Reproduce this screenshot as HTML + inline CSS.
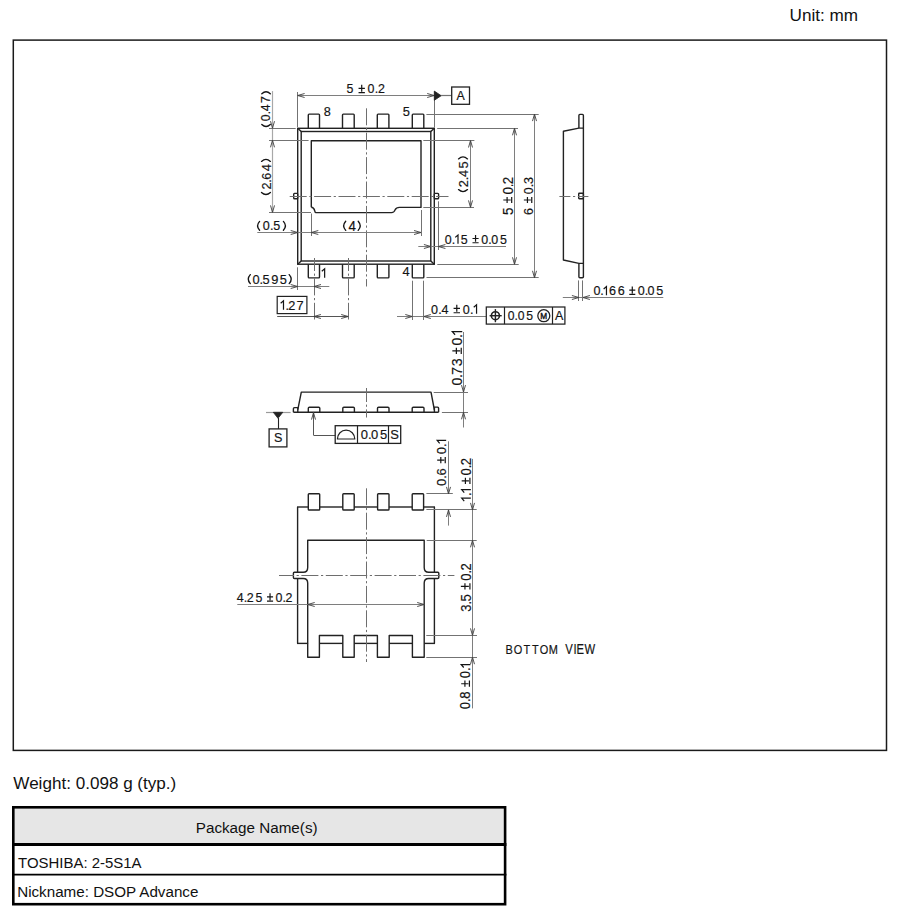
<!DOCTYPE html>
<html><head><meta charset="utf-8"><style>
html,body{margin:0;padding:0;background:#fff;}
body{width:900px;height:919px;overflow:hidden;position:relative;}
svg{position:absolute;left:0;top:0;}
</style></head><body>
<svg width="900" height="919" viewBox="0 0 900 919">
<rect x="0" y="0" width="900" height="919" fill="#fff"/>
<rect x="13.3" y="40.1" width="873.2" height="710.3" fill="none" stroke="#1a1a1a" stroke-width="1.5"/>
<path d="M308.3,128.3 L308.3,114.9 Q308.3,114.1 309.1,114.1 L318.7,114.1 Q319.5,114.1 319.5,114.9 L319.5,128.3" stroke="#222222" stroke-width="1.4" fill="none" stroke-linejoin="round"/>
<path d="M308.3,264.2 L308.3,277.1 Q308.3,277.9 309.1,277.9 L318.7,277.9 Q319.5,277.9 319.5,277.1 L319.5,264.2" stroke="#222222" stroke-width="1.4" fill="none" stroke-linejoin="round"/>
<path d="M342.5,128.3 L342.5,114.9 Q342.5,114.1 343.3,114.1 L353.4,114.1 Q354.2,114.1 354.2,114.9 L354.2,128.3" stroke="#222222" stroke-width="1.4" fill="none" stroke-linejoin="round"/>
<path d="M342.5,264.2 L342.5,277.1 Q342.5,277.9 343.3,277.9 L353.4,277.9 Q354.2,277.9 354.2,277.1 L354.2,264.2" stroke="#222222" stroke-width="1.4" fill="none" stroke-linejoin="round"/>
<path d="M377.3,128.3 L377.3,114.9 Q377.3,114.1 378.1,114.1 L388.09999999999997,114.1 Q388.9,114.1 388.9,114.9 L388.9,128.3" stroke="#222222" stroke-width="1.4" fill="none" stroke-linejoin="round"/>
<path d="M377.3,264.2 L377.3,277.1 Q377.3,277.9 378.1,277.9 L388.09999999999997,277.9 Q388.9,277.9 388.9,277.1 L388.9,264.2" stroke="#222222" stroke-width="1.4" fill="none" stroke-linejoin="round"/>
<path d="M412.3,128.3 L412.3,114.9 Q412.3,114.1 413.1,114.1 L423.0,114.1 Q423.8,114.1 423.8,114.9 L423.8,128.3" stroke="#222222" stroke-width="1.4" fill="none" stroke-linejoin="round"/>
<path d="M412.3,264.2 L412.3,277.1 Q412.3,277.9 413.1,277.9 L423.0,277.9 Q423.8,277.9 423.8,277.1 L423.8,264.2" stroke="#222222" stroke-width="1.4" fill="none" stroke-linejoin="round"/>
<rect x="297.70" y="128.30" width="136.60" height="135.90" rx="0" stroke="#222222" stroke-width="1.4" fill="none"/>
<rect x="301.20" y="131.50" width="129.60" height="129.50" rx="0" stroke="#222222" stroke-width="1.4" fill="none"/>
<line x1="297.70" y1="128.30" x2="301.20" y2="131.50" stroke="#222222" stroke-width="1.4" />
<line x1="434.30" y1="128.30" x2="430.80" y2="131.50" stroke="#222222" stroke-width="1.4" />
<line x1="297.70" y1="264.20" x2="301.20" y2="261.00" stroke="#222222" stroke-width="1.4" />
<line x1="434.30" y1="264.20" x2="430.80" y2="261.00" stroke="#222222" stroke-width="1.4" />
<rect x="293.70" y="193.40" width="4.00" height="5.30" rx="0.8" stroke="#222222" stroke-width="1.4" fill="none"/>
<rect x="434.30" y="193.40" width="4.30" height="5.30" rx="0.8" stroke="#222222" stroke-width="1.4" fill="none"/>
<path d="M311.3,207.2 L311.3,140.7 L421.0,140.7 L421.0,207.4 L399.5,207.4 Q396.2,207.4 395.2,209.6 Q394.2,212.6 391.5,212.6 L316.0,212.6 Q315.0,212.6 314.6,210.5 Q314.0,207.5 311.3,207.2" stroke="#222222" stroke-width="1.4" fill="none" stroke-linejoin="round"/>
<text transform="scale(0.95,1)" x="340.83" y="115.666" font-family="Liberation Sans" font-size="13.380" fill="#141414" stroke="#141414" stroke-width="0.18">8</text>
<text transform="scale(0.95,1)" x="423.97" y="115.664" font-family="Liberation Sans" font-size="13.571" fill="#141414" stroke="#141414" stroke-width="0.18">5</text>
<text transform="scale(0.95,1)" x="" y="277.800" font-family="Liberation Sans" font-size="13.913" fill="#141414" stroke="#141414" stroke-width="0.18"></text><path d="M321.77,271.27 L324.65,268.80 L324.65,277.75" stroke="#141414" stroke-width="1.2" fill="none" stroke-linejoin="miter"/>
<text transform="scale(0.95,1)" x="423.80" y="275.600" font-family="Liberation Sans" font-size="13.478" fill="#141414" stroke="#141414" stroke-width="0.18">4</text>
<line x1="366.50" y1="108.30" x2="366.50" y2="286.50" stroke="#6e6e6e" stroke-width="1.0" stroke-dasharray="17 2.6 2.2 2.6" stroke-dashoffset="0"/>
<line x1="288.70" y1="196.50" x2="448.50" y2="196.50" stroke="#6e6e6e" stroke-width="1.0" stroke-dasharray="17 2.6 2.2 2.6" stroke-dashoffset="-1"/>
<line x1="314.50" y1="258.00" x2="314.50" y2="319.50" stroke="#6e6e6e" stroke-width="1.0" stroke-dasharray="17 2.6 2.2 2.6" stroke-dashoffset="4"/>
<line x1="348.50" y1="258.00" x2="348.50" y2="319.50" stroke="#6e6e6e" stroke-width="1.0" stroke-dasharray="17 2.6 2.2 2.6" stroke-dashoffset="4"/>
<line x1="297.50" y1="92.00" x2="297.50" y2="127.00" stroke="#737373" stroke-width="1.0" />
<line x1="434.50" y1="91.50" x2="434.50" y2="127.50" stroke="#737373" stroke-width="1.0" />
<line x1="297.50" y1="95.50" x2="434.30" y2="95.50" stroke="#7e7e7e" stroke-width="1.0" />
<path d="M304.60,93.50 L297.60,95.50 L304.60,97.50" stroke="#3c3c3c" stroke-width="0.9" fill="none"/>
<path d="M427.20,97.50 L434.20,95.50 L427.20,93.50" stroke="#3c3c3c" stroke-width="0.9" fill="none"/>
<text transform="scale(0.95,1)" x="364.86 386.98 394.54 397.98" y="93.469" font-family="Liberation Sans" font-size="13.099" fill="#141414" stroke="#141414" stroke-width="0.18">50.2</text><path d="M358.55,88.39 L364.88,88.39 M361.71,84.86 L361.71,91.74 M358.55,92.67 L364.88,92.67" stroke="#141414" stroke-width="1.2" fill="none"/>
<path d="M434.30,91.10 L441.20,95.70 L434.30,100.30 Z" stroke="#222222" stroke-width="0.8" fill="#222222" stroke-linejoin="round"/>
<line x1="441.00" y1="95.50" x2="451.70" y2="95.50" stroke="#737373" stroke-width="1.2" />
<rect x="451.70" y="87.00" width="17.80" height="17.30" rx="0" stroke="#222222" stroke-width="1.3" fill="none"/>
<text transform="scale(0.95,1)" x="480.51" y="100.200" font-family="Liberation Sans" font-size="13.043" fill="#141414" stroke="#141414" stroke-width="0.18">A</text>
<line x1="272.50" y1="91.10" x2="272.50" y2="212.30" stroke="#a8a8a8" stroke-width="1.2" />
<line x1="269.00" y1="128.50" x2="295.70" y2="128.50" stroke="#737373" stroke-width="1.0" />
<line x1="269.00" y1="140.50" x2="308.60" y2="140.50" stroke="#737373" stroke-width="1.0" />
<line x1="269.00" y1="212.50" x2="311.00" y2="212.50" stroke="#737373" stroke-width="1.0" />
<path d="M270.50,121.20 L272.50,128.20 L274.50,121.20" stroke="#3c3c3c" stroke-width="0.9" fill="none"/>
<path d="M274.50,147.30 L272.50,140.30 L270.50,147.30" stroke="#3c3c3c" stroke-width="0.9" fill="none"/>
<path d="M270.50,205.40 L272.50,212.40 L274.50,205.40" stroke="#3c3c3c" stroke-width="0.9" fill="none"/>
<g transform="matrix(0,-1,1,0,0,0)"><text transform="scale(0.95,1)" x="-127.53 -120.36 -117.16 -108.35" y="270.472" font-family="Liberation Sans" font-size="12.817" fill="#141414" stroke="#141414" stroke-width="0.18">0.47</text><path d="M-124.40,261.80 Q-128.45,266.05 -124.40,270.30" stroke="#141414" stroke-width="1.35" fill="none" stroke-linecap="round"/><path d="M-93.70,261.80 Q-89.65,266.05 -93.70,270.30" stroke="#141414" stroke-width="1.35" fill="none" stroke-linecap="round"/></g>
<g transform="matrix(0,-1,1,0,0,0)"><text transform="scale(0.95,1)" x="-199.45 -192.26 -189.29 -180.33" y="270.566" font-family="Liberation Sans" font-size="13.380" fill="#141414" stroke="#141414" stroke-width="0.18">2.64</text><path d="M-192.40,261.50 Q-196.45,265.95 -192.40,270.40" stroke="#141414" stroke-width="1.35" fill="none" stroke-linecap="round"/><path d="M-161.40,261.50 Q-157.35,265.95 -161.40,270.40" stroke="#141414" stroke-width="1.35" fill="none" stroke-linecap="round"/></g>
<line x1="426.40" y1="114.50" x2="538.70" y2="114.50" stroke="#737373" stroke-width="1.0" />
<line x1="437.20" y1="128.50" x2="518.00" y2="128.50" stroke="#737373" stroke-width="1.0" />
<line x1="423.30" y1="140.50" x2="474.40" y2="140.50" stroke="#737373" stroke-width="1.0" />
<line x1="423.30" y1="207.50" x2="474.00" y2="207.50" stroke="#737373" stroke-width="1.0" />
<line x1="437.30" y1="264.50" x2="518.70" y2="264.50" stroke="#737373" stroke-width="1.0" />
<line x1="426.50" y1="277.50" x2="538.70" y2="277.50" stroke="#737373" stroke-width="1.0" />
<line x1="470.50" y1="140.50" x2="470.50" y2="207.40" stroke="#7e7e7e" stroke-width="1.0" />
<path d="M472.50,147.50 L470.50,140.50 L468.50,147.50" stroke="#3c3c3c" stroke-width="0.9" fill="none"/>
<path d="M468.50,200.40 L470.50,207.40 L472.50,200.40" stroke="#3c3c3c" stroke-width="0.9" fill="none"/>
<line x1="514.50" y1="128.30" x2="514.50" y2="264.30" stroke="#7e7e7e" stroke-width="1.0" />
<path d="M516.50,135.30 L514.50,128.30 L512.50,135.30" stroke="#3c3c3c" stroke-width="0.9" fill="none"/>
<path d="M512.50,257.30 L514.50,264.30 L516.50,257.30" stroke="#3c3c3c" stroke-width="0.9" fill="none"/>
<line x1="534.50" y1="114.10" x2="534.50" y2="277.80" stroke="#7e7e7e" stroke-width="1.0" />
<path d="M536.50,121.10 L534.50,114.10 L532.50,121.10" stroke="#3c3c3c" stroke-width="0.9" fill="none"/>
<path d="M532.50,270.80 L534.50,277.80 L536.50,270.80" stroke="#3c3c3c" stroke-width="0.9" fill="none"/>
<g transform="matrix(0,-1,1,0,0,0)"><text transform="scale(0.95,1)" x="-197.06 -189.65 -186.38 -177.29" y="467.665" font-family="Liberation Sans" font-size="13.521" fill="#141414" stroke="#141414" stroke-width="0.18">2.45</text><path d="M-189.60,458.50 Q-193.65,463.00 -189.60,467.50" stroke="#141414" stroke-width="1.35" fill="none" stroke-linecap="round"/><path d="M-158.90,458.50 Q-154.85,463.00 -158.90,467.50" stroke="#141414" stroke-width="1.35" fill="none" stroke-linecap="round"/></g>
<g transform="matrix(0,-1,1,0,0,0)"><text transform="scale(0.95,1)" x="-226.43 -204.79 -197.20 -194.01" y="512.559" font-family="Liberation Sans" font-size="14.085" fill="#141414" stroke="#141414" stroke-width="0.18">50.2</text><path d="M-203.10,507.10 L-196.90,507.10 M-200.00,503.30 L-200.00,510.70 M-203.10,511.70 L-196.90,511.70" stroke="#141414" stroke-width="1.2" fill="none"/></g>
<g transform="matrix(0,-1,1,0,0,0)"><text transform="scale(0.95,1)" x="-226.27 -204.55 -197.08 -193.78" y="532.568" font-family="Liberation Sans" font-size="13.239" fill="#141414" stroke="#141414" stroke-width="0.18">60.3</text><path d="M-203.10,527.44 L-196.90,527.44 M-200.00,523.86 L-200.00,530.82 M-203.10,531.76 L-196.90,531.76" stroke="#141414" stroke-width="1.2" fill="none"/></g>
<line x1="438.50" y1="201.30" x2="438.50" y2="250.00" stroke="#737373" stroke-width="1.0" />
<line x1="418.30" y1="246.50" x2="506.00" y2="246.50" stroke="#7e7e7e" stroke-width="1.0" />
<path d="M423.90,248.50 L430.90,246.50 L423.90,244.50" stroke="#3c3c3c" stroke-width="0.9" fill="none"/>
<path d="M445.40,244.50 L438.40,246.50 L445.40,248.50" stroke="#3c3c3c" stroke-width="0.9" fill="none"/>
<text transform="scale(0.95,1)" x="468.19 475.57 485.08 506.49 513.87 517.11 526.30" y="243.569" font-family="Liberation Sans" font-size="13.099" fill="#141414" stroke="#141414" stroke-width="0.18">0.50.05</text><path d="M455.21,237.38 L458.00,235.00 L458.00,243.65" stroke="#141414" stroke-width="1.2" fill="none" stroke-linejoin="miter"/><path d="M472.49,238.49 L478.62,238.49 M475.55,234.96 L475.55,241.84 M472.49,242.77 L478.62,242.77" stroke="#141414" stroke-width="1.2" fill="none"/>
<line x1="311.50" y1="213.50" x2="311.50" y2="236.00" stroke="#737373" stroke-width="1.0" />
<line x1="421.50" y1="210.00" x2="421.50" y2="236.00" stroke="#737373" stroke-width="1.0" />
<line x1="257.30" y1="232.50" x2="421.00" y2="232.50" stroke="#7e7e7e" stroke-width="1.0" />
<path d="M318.30,230.50 L311.30,232.50 L318.30,234.50" stroke="#3c3c3c" stroke-width="0.9" fill="none"/>
<path d="M414.00,234.50 L421.00,232.50 L414.00,230.50" stroke="#3c3c3c" stroke-width="0.9" fill="none"/>
<path d="M290.70,234.50 L297.70,232.50 L290.70,230.50" stroke="#3c3c3c" stroke-width="0.9" fill="none"/>
<text transform="scale(0.95,1)" x="366.91" y="230.700" font-family="Liberation Sans" font-size="14.058" fill="#141414" stroke="#141414" stroke-width="0.18">4</text>
<path d="M345.70,221.30 Q341.65,225.85 345.70,230.40" stroke="#141414" stroke-width="1.35" fill="none" stroke-linecap="round"/>
<path d="M358.20,221.30 Q362.25,225.85 358.20,230.40" stroke="#141414" stroke-width="1.35" fill="none" stroke-linecap="round"/>
<text transform="scale(0.95,1)" x="276.54 284.24 287.76" y="230.368" font-family="Liberation Sans" font-size="13.239" fill="#141414" stroke="#141414" stroke-width="0.18">0.5</text>
<path d="M259.60,221.40 Q255.55,225.80 259.60,230.20" stroke="#141414" stroke-width="1.35" fill="none" stroke-linecap="round"/>
<path d="M283.40,221.40 Q287.45,225.80 283.40,230.20" stroke="#141414" stroke-width="1.35" fill="none" stroke-linecap="round"/>
<line x1="297.50" y1="267.30" x2="297.50" y2="290.00" stroke="#737373" stroke-width="1.0" />
<line x1="248.00" y1="286.50" x2="329.30" y2="286.50" stroke="#7e7e7e" stroke-width="1.0" />
<path d="M290.70,288.50 L297.70,286.50 L290.70,284.50" stroke="#3c3c3c" stroke-width="0.9" fill="none"/>
<path d="M321.00,284.50 L314.00,286.50 L321.00,288.50" stroke="#3c3c3c" stroke-width="0.9" fill="none"/>
<text transform="scale(0.95,1)" x="265.74 273.17 276.36 285.49 294.61" y="283.765" font-family="Liberation Sans" font-size="13.521" fill="#141414" stroke="#141414" stroke-width="0.18">0.595</text>
<path d="M250.30,274.60 Q246.25,279.10 250.30,283.60" stroke="#141414" stroke-width="1.35" fill="none" stroke-linecap="round"/>
<path d="M289.20,274.60 Q293.25,279.10 289.20,283.60" stroke="#141414" stroke-width="1.35" fill="none" stroke-linecap="round"/>
<rect x="277.20" y="296.40" width="29.70" height="17.20" rx="0" stroke="#222222" stroke-width="1.2" fill="none"/>
<text transform="scale(0.95,1)" x="300.48 303.39 311.99" y="309.700" font-family="Liberation Sans" font-size="13.429" fill="#141414" stroke="#141414" stroke-width="0.18">.27</text><path d="M280.67,303.31 L283.49,300.90 L283.49,309.65" stroke="#141414" stroke-width="1.2" fill="none" stroke-linejoin="miter"/>
<line x1="277.20" y1="316.50" x2="348.20" y2="316.50" stroke="#555" stroke-width="1.0" />
<path d="M320.90,314.50 L313.90,316.50 L320.90,318.50" stroke="#3c3c3c" stroke-width="0.9" fill="none"/>
<path d="M341.20,318.50 L348.20,316.50 L341.20,314.50" stroke="#3c3c3c" stroke-width="0.9" fill="none"/>
<line x1="412.50" y1="280.70" x2="412.50" y2="320.00" stroke="#737373" stroke-width="1.0" />
<line x1="423.50" y1="280.70" x2="423.50" y2="320.00" stroke="#737373" stroke-width="1.0" />
<line x1="397.00" y1="316.50" x2="486.10" y2="316.50" stroke="#7e7e7e" stroke-width="1.0" />
<path d="M405.30,318.50 L412.30,316.50 L405.30,314.50" stroke="#3c3c3c" stroke-width="0.9" fill="none"/>
<path d="M430.80,314.50 L423.80,316.50 L430.80,318.50" stroke="#3c3c3c" stroke-width="0.9" fill="none"/>
<text transform="scale(0.95,1)" x="453.58 461.24 464.80 487.16 494.83" y="313.568" font-family="Liberation Sans" font-size="13.239" fill="#141414" stroke="#141414" stroke-width="0.18">0.40.</text><path d="M453.58,308.44 L460.00,308.44 M456.79,304.86 L456.79,311.82 M453.58,312.76 L460.00,312.76" stroke="#141414" stroke-width="1.2" fill="none"/><path d="M473.73,307.31 L476.55,304.90 L476.55,313.65" stroke="#141414" stroke-width="1.2" fill="none" stroke-linejoin="miter"/>
<rect x="486.30" y="307.00" width="78.60" height="17.10" rx="0" stroke="#222222" stroke-width="1.25" fill="none"/>
<line x1="504.50" y1="307.00" x2="504.50" y2="324.10" stroke="#222222" stroke-width="1.2" />
<line x1="552.50" y1="307.00" x2="552.50" y2="324.10" stroke="#222222" stroke-width="1.2" />
<circle cx="495.4" cy="315.7" r="4.0" stroke="#222" stroke-width="1.6" fill="none"/>
<line x1="489.60" y1="315.70" x2="501.70" y2="315.70" stroke="#222222" stroke-width="1.4" />
<line x1="495.40" y1="309.10" x2="495.40" y2="322.20" stroke="#222222" stroke-width="1.4" />
<text transform="scale(0.95,1)" x="534.36 541.68 544.93 554.08" y="319.972" font-family="Liberation Sans" font-size="12.817" fill="#141414" stroke="#141414" stroke-width="0.18">0.05</text>
<circle cx="543.8" cy="315.7" r="6.0" stroke="#222" stroke-width="1.3" fill="none"/>
<text transform="scale(0.95,1)" x="568.76" y="318.900" font-family="Liberation Sans" font-size="8.696" fill="#141414" stroke="#141414" stroke-width="0.40">M</text>
<text transform="scale(0.95,1)" x="584.14" y="320.100" font-family="Liberation Sans" font-size="13.188" fill="#141414" stroke="#141414" stroke-width="0.18">A</text>
<path d="M578.9,128.1 L578.9,115.4 Q578.9,114.4 579.9,114.4 L582.4,114.4 Q583.4,114.4 583.4,115.4 L583.4,277.0" stroke="#222222" stroke-width="1.4" fill="none" stroke-linejoin="round"/>
<path d="M578.9,263.4 L578.9,276.7 Q578.9,277.7 579.9,277.7 L582.4,277.7 Q583.4,277.7 583.4,276.7" stroke="#222222" stroke-width="1.4" fill="none" stroke-linejoin="round"/>
<path d="M583.4,128.1 L578.9,128.1 L563.4,131.2 L563.4,260.0 L578.9,263.4 L583.4,263.4" stroke="#222222" stroke-width="1.4" fill="none" stroke-linejoin="round"/>
<rect x="578.70" y="193.30" width="4.70" height="5.40" rx="0.6" stroke="#222222" stroke-width="1.4" fill="none"/>
<line x1="559.40" y1="196.50" x2="588.40" y2="196.50" stroke="#6e6e6e" stroke-width="1.0" stroke-dasharray="17 2.6 2.2 2.6" stroke-dashoffset="6"/>
<line x1="578.50" y1="280.40" x2="578.50" y2="301.00" stroke="#737373" stroke-width="1.0" />
<line x1="582.50" y1="280.40" x2="582.50" y2="301.00" stroke="#737373" stroke-width="1.0" />
<line x1="562.80" y1="297.50" x2="663.30" y2="297.50" stroke="#7e7e7e" stroke-width="1.0" />
<path d="M571.90,299.50 L578.90,297.50 L571.90,295.50" stroke="#3c3c3c" stroke-width="0.9" fill="none"/>
<path d="M589.90,295.50 L582.90,297.50 L589.90,299.50" stroke="#3c3c3c" stroke-width="0.9" fill="none"/>
<text transform="scale(0.95,1)" x="624.62 631.93 641.16 650.16 671.27 678.58 681.70 690.74" y="295.268" font-family="Liberation Sans" font-size="13.239" fill="#141414" stroke="#141414" stroke-width="0.18">0.660.05</text><path d="M603.64,289.01 L606.46,286.60 L606.46,295.35" stroke="#141414" stroke-width="1.2" fill="none" stroke-linejoin="miter"/><path d="M629.27,290.14 L635.30,290.14 M632.28,286.56 L632.28,293.52 M629.27,294.46 L635.30,294.46" stroke="#141414" stroke-width="1.2" fill="none"/>
<path d="M297.8,409.6 L301.3,392.1 L431.0,392.1 L434.4,410.0" stroke="#222222" stroke-width="1.4" fill="none" stroke-linejoin="round"/>
<path d="M293.4,412.3 L293.4,408.7 Q293.4,407.6 294.5,407.6 L297.8,407.6 L297.8,412.3" stroke="#222222" stroke-width="1.4" fill="none" stroke-linejoin="round"/>
<path d="M438.6,412.3 L438.6,408.2 Q438.6,407.1 437.5,407.1 L434.4,407.1 L434.4,412.3" stroke="#222222" stroke-width="1.4" fill="none" stroke-linejoin="round"/>
<line x1="293.40" y1="412.30" x2="438.60" y2="412.30" stroke="#222222" stroke-width="1.4" />
<path d="M308.3,412.3 L308.3,408.3 Q308.3,407.2 309.40000000000003,407.2 L318.7,407.2 Q319.8,407.2 319.8,408.3 L319.8,412.3" stroke="#222222" stroke-width="1.4" fill="none" stroke-linejoin="round"/>
<path d="M342.8,412.3 L342.8,408.3 Q342.8,407.2 343.90000000000003,407.2 L353.29999999999995,407.2 Q354.4,407.2 354.4,408.3 L354.4,412.3" stroke="#222222" stroke-width="1.4" fill="none" stroke-linejoin="round"/>
<path d="M377.5,412.3 L377.5,408.3 Q377.5,407.2 378.6,407.2 L387.9,407.2 Q389.0,407.2 389.0,408.3 L389.0,412.3" stroke="#222222" stroke-width="1.4" fill="none" stroke-linejoin="round"/>
<path d="M412.2,412.3 L412.2,408.3 Q412.2,407.2 413.3,407.2 L422.9,407.2 Q424.0,407.2 424.0,408.3 L424.0,412.3" stroke="#222222" stroke-width="1.4" fill="none" stroke-linejoin="round"/>
<line x1="366.50" y1="388.00" x2="366.50" y2="417.50" stroke="#6e6e6e" stroke-width="1.0" stroke-dasharray="17 2.6 2.2 2.6" stroke-dashoffset="3"/>
<line x1="266.00" y1="412.50" x2="290.60" y2="412.50" stroke="#9a9a9a" stroke-width="1.2" />
<path d="M273.30,412.30 L282.80,412.30 L278.00,418.30 Z" stroke="#222222" stroke-width="0.8" fill="#222222" stroke-linejoin="round"/>
<line x1="278.50" y1="418.00" x2="278.50" y2="428.90" stroke="#222222" stroke-width="1.1" />
<rect x="269.10" y="428.90" width="17.80" height="18.00" rx="0" stroke="#222222" stroke-width="1.3" fill="none"/>
<text transform="scale(0.95,1)" x="288.33" y="442.468" font-family="Liberation Sans" font-size="13.239" fill="#141414" stroke="#141414" stroke-width="0.18">S</text>
<line x1="313.50" y1="412.30" x2="313.50" y2="435.30" stroke="#555" stroke-width="1.0" />
<line x1="313.60" y1="435.50" x2="335.20" y2="435.50" stroke="#555" stroke-width="1.0" />
<path d="M315.50,419.60 L313.50,412.60 L311.50,419.60" stroke="#3c3c3c" stroke-width="0.9" fill="none"/>
<rect x="335.20" y="425.70" width="65.50" height="17.70" rx="0" stroke="#222222" stroke-width="1.3" fill="none"/>
<line x1="357.50" y1="425.70" x2="357.50" y2="443.40" stroke="#222222" stroke-width="1.2" />
<line x1="388.50" y1="425.70" x2="388.50" y2="443.40" stroke="#222222" stroke-width="1.2" />
<path d="M337.4,439.0 A8.7,8.9 0 0 1 354.8,439.0 Z" stroke="#222222" stroke-width="1.2" fill="none" stroke-linejoin="round"/>
<text transform="scale(0.95,1)" x="379.78 387.35 390.60 399.97" y="439.263" font-family="Liberation Sans" font-size="13.662" fill="#141414" stroke="#141414" stroke-width="0.18">0.05</text>
<text transform="scale(0.95,1)" x="410.88" y="439.263" font-family="Liberation Sans" font-size="13.662" fill="#141414" stroke="#141414" stroke-width="0.18">S</text>
<line x1="433.70" y1="392.50" x2="468.00" y2="392.50" stroke="#737373" stroke-width="1.0" />
<line x1="441.90" y1="412.50" x2="468.00" y2="412.50" stroke="#737373" stroke-width="1.0" />
<line x1="463.50" y1="332.00" x2="463.50" y2="427.50" stroke="#7e7e7e" stroke-width="1.0" />
<path d="M461.50,385.10 L463.50,392.10 L465.50,385.10" stroke="#3c3c3c" stroke-width="0.9" fill="none"/>
<path d="M465.50,419.30 L463.50,412.30 L461.50,419.30" stroke="#3c3c3c" stroke-width="0.9" fill="none"/>
<g transform="matrix(0,-1,1,0,0,0)"><text transform="scale(0.95,1)" x="-405.73 -397.97 -394.85 -385.50 -363.65 -355.89" y="462.151" font-family="Liberation Sans" font-size="14.930" fill="#141414" stroke="#141414" stroke-width="0.18">0.730.</text><path d="M-353.91,456.36 L-347.66,456.36 M-350.78,452.34 L-350.78,460.18 M-353.91,461.24 L-347.66,461.24" stroke="#141414" stroke-width="1.2" fill="none"/><path d="M-334.73,455.09 L-331.55,452.30 L-331.55,462.25" stroke="#141414" stroke-width="1.2" fill="none" stroke-linejoin="miter"/></g>
<rect x="308.30" y="493.70" width="11.40" height="16.30" rx="0.8" stroke="#222222" stroke-width="1.4" fill="none"/>
<rect x="342.80" y="493.70" width="11.40" height="16.30" rx="0.8" stroke="#222222" stroke-width="1.4" fill="none"/>
<rect x="377.60" y="493.70" width="11.40" height="16.30" rx="0.8" stroke="#222222" stroke-width="1.4" fill="none"/>
<rect x="412.20" y="493.70" width="11.40" height="16.30" rx="0.8" stroke="#222222" stroke-width="1.4" fill="none"/>
<line x1="297.00" y1="507.00" x2="308.30" y2="507.00" stroke="#222222" stroke-width="1.4" />
<line x1="319.70" y1="507.00" x2="342.80" y2="507.00" stroke="#222222" stroke-width="1.4" />
<line x1="354.20" y1="507.00" x2="377.60" y2="507.00" stroke="#222222" stroke-width="1.4" />
<line x1="389.00" y1="507.00" x2="412.20" y2="507.00" stroke="#222222" stroke-width="1.4" />
<line x1="423.60" y1="507.00" x2="435.00" y2="507.00" stroke="#222222" stroke-width="1.4" />
<line x1="297.60" y1="507.00" x2="297.60" y2="572.30" stroke="#222222" stroke-width="1.4" />
<line x1="297.60" y1="578.50" x2="297.60" y2="643.40" stroke="#222222" stroke-width="1.4" />
<line x1="434.40" y1="507.00" x2="434.40" y2="572.30" stroke="#222222" stroke-width="1.4" />
<line x1="434.40" y1="578.50" x2="434.40" y2="643.40" stroke="#222222" stroke-width="1.4" />
<line x1="297.00" y1="643.40" x2="308.10" y2="643.40" stroke="#222222" stroke-width="1.4" />
<line x1="319.40" y1="643.40" x2="342.80" y2="643.40" stroke="#222222" stroke-width="1.4" />
<line x1="354.20" y1="643.40" x2="377.40" y2="643.40" stroke="#222222" stroke-width="1.4" />
<line x1="389.20" y1="643.40" x2="412.40" y2="643.40" stroke="#222222" stroke-width="1.4" />
<line x1="424.20" y1="643.40" x2="435.00" y2="643.40" stroke="#222222" stroke-width="1.4" />
<path d="M307.7,540.3 L424.2,540.3 L424.2,567.5 Q424.2,572.3 428.8,572.3 L437.8,572.3 Q438.8,572.3 438.8,573.3 L438.8,577.5 Q438.8,578.5 437.8,578.5 L428.8,578.5 Q424.2,578.5 424.2,583.0 L424.2,657.3 L412.4,657.3 L412.4,635.5 L389.2,635.5 L389.2,657.3 L377.4,657.3 L377.4,635.5 L354.2,635.5 L354.2,657.3 L342.8,657.3 L342.8,635.5 L319.4,635.5 L319.4,657.3 L307.7,657.3 L307.7,583.0 Q307.7,578.5 303.2,578.5 L294.4,578.5 Q293.4,578.5 293.4,577.5 L293.4,573.3 Q293.4,572.3 294.4,572.3 L303.2,572.3 Q307.7,572.3 307.7,567.5 Z" stroke="#222222" stroke-width="1.4" fill="none" stroke-linejoin="round"/>
<line x1="366.50" y1="488.30" x2="366.50" y2="662.00" stroke="#6e6e6e" stroke-width="1.0" stroke-dasharray="17 2.6 2.2 2.6" stroke-dashoffset="0"/>
<line x1="279.00" y1="575.50" x2="454.40" y2="575.50" stroke="#6e6e6e" stroke-width="1.0" stroke-dasharray="17 2.6 2.2 2.6" stroke-dashoffset="2"/>
<line x1="426.40" y1="493.50" x2="452.80" y2="493.50" stroke="#737373" stroke-width="1.0" />
<line x1="426.40" y1="509.50" x2="476.70" y2="509.50" stroke="#737373" stroke-width="1.0" />
<line x1="426.70" y1="540.50" x2="476.70" y2="540.50" stroke="#737373" stroke-width="1.0" />
<line x1="426.30" y1="635.50" x2="477.00" y2="635.50" stroke="#737373" stroke-width="1.0" />
<line x1="426.30" y1="657.50" x2="477.00" y2="657.50" stroke="#737373" stroke-width="1.0" />
<line x1="448.50" y1="441.30" x2="448.50" y2="493.90" stroke="#7e7e7e" stroke-width="1.0" />
<path d="M446.50,486.90 L448.50,493.90 L450.50,486.90" stroke="#3c3c3c" stroke-width="0.9" fill="none"/>
<line x1="448.50" y1="509.90" x2="448.50" y2="525.60" stroke="#7e7e7e" stroke-width="1.0" />
<path d="M450.50,516.90 L448.50,509.90 L446.50,516.90" stroke="#3c3c3c" stroke-width="0.9" fill="none"/>
<line x1="472.50" y1="458.90" x2="472.50" y2="708.40" stroke="#7e7e7e" stroke-width="1.0" />
<path d="M470.50,502.90 L472.50,509.90 L474.50,502.90" stroke="#3c3c3c" stroke-width="0.9" fill="none"/>
<path d="M474.50,547.30 L472.50,540.30 L470.50,547.30" stroke="#3c3c3c" stroke-width="0.9" fill="none"/>
<path d="M470.50,628.40 L472.50,635.40 L474.50,628.40" stroke="#3c3c3c" stroke-width="0.9" fill="none"/>
<path d="M474.50,664.20 L472.50,657.20 L470.50,664.20" stroke="#3c3c3c" stroke-width="0.9" fill="none"/>
<g transform="matrix(0,-1,1,0,0,0)"><text transform="scale(0.95,1)" x="-511.57 -503.89 -500.53 -478.13 -470.45" y="446.065" font-family="Liberation Sans" font-size="13.521" fill="#141414" stroke="#141414" stroke-width="0.18">0.60.</text><path d="M-463.32,440.82 L-456.92,440.82 M-460.12,437.18 L-460.12,444.28 M-463.32,445.24 L-456.92,445.24" stroke="#141414" stroke-width="1.2" fill="none"/><path d="M-443.33,439.67 L-440.45,437.20 L-440.45,446.15" stroke="#141414" stroke-width="1.2" fill="none" stroke-linejoin="miter"/></g>
<g transform="matrix(0,-1,1,0,0,0)"><text transform="scale(0.95,1)" x="-522.05 -500.50 -493.00 -489.81" y="470.762" font-family="Liberation Sans" font-size="13.803" fill="#141414" stroke="#141414" stroke-width="0.18">.0.2</text><path d="M-501.02,464.24 L-498.08,461.70 L-498.08,470.85" stroke="#141414" stroke-width="1.2" fill="none" stroke-linejoin="miter"/><path d="M-492.57,464.24 L-489.63,461.70 L-489.63,470.85" stroke="#141414" stroke-width="1.2" fill="none" stroke-linejoin="miter"/><path d="M-484.02,465.41 L-477.86,465.41 M-480.94,461.69 L-480.94,468.94 M-484.02,469.92 L-477.86,469.92" stroke="#141414" stroke-width="1.2" fill="none"/></g>
<g transform="matrix(0,-1,1,0,0,0)"><text transform="scale(0.85,1)" x="-719.72 -711.30 -707.62 -683.22 -674.76 -671.08" y="470.848" font-family="Liberation Sans" font-size="15.211" fill="#141414" stroke="#141414" stroke-width="0.18">3.50.2</text><path d="M-589.52,464.95 L-583.26,464.95 M-586.39,460.85 L-586.39,468.84 M-589.52,469.92 L-583.26,469.92" stroke="#141414" stroke-width="1.2" fill="none"/></g>
<g transform="matrix(0,-1,1,0,0,0)"><text transform="scale(0.95,1)" x="-746.47 -738.89 -735.66 -713.83 -706.25" y="470.262" font-family="Liberation Sans" font-size="13.803" fill="#141414" stroke="#141414" stroke-width="0.18">0.80.</text><path d="M-686.85,464.91 L-680.61,464.91 M-683.73,461.19 L-683.73,468.44 M-686.85,469.42 L-680.61,469.42" stroke="#141414" stroke-width="1.2" fill="none"/><path d="M-667.49,463.74 L-664.55,461.20 L-664.55,470.35" stroke="#141414" stroke-width="1.2" fill="none" stroke-linejoin="miter"/></g>
<line x1="237.30" y1="604.50" x2="424.20" y2="604.50" stroke="#7e7e7e" stroke-width="1.0" />
<path d="M314.70,602.50 L307.70,604.50 L314.70,606.50" stroke="#3c3c3c" stroke-width="0.9" fill="none"/>
<path d="M417.20,606.50 L424.20,604.50 L417.20,602.50" stroke="#3c3c3c" stroke-width="0.9" fill="none"/>
<text transform="scale(0.95,1)" x="249.31 256.55 259.77 268.85 290.08 297.42 300.64" y="601.869" font-family="Liberation Sans" font-size="13.099" fill="#141414" stroke="#141414" stroke-width="0.18">4.250.2</text><path d="M267.00,596.79 L273.08,596.79 M270.04,593.26 L270.04,600.14 M267.00,601.07 L273.08,601.07" stroke="#141414" stroke-width="1.2" fill="none"/>
<text transform="scale(0.82,1)" x="616.45 626.61 638.41 648.76 658.35 669.36" y="654.066" font-family="Liberation Sans" font-size="13.380" fill="#141414" stroke="#141414" stroke-width="0.18">BOTTOM</text>
<text transform="scale(0.82,1)" x="689.41 699.53 703.21 712.94" y="654.200" font-family="Liberation Sans" font-size="13.768" fill="#141414" stroke="#141414" stroke-width="0.18">VIEW</text>
<text transform="matrix(17.1503,0,0,17.1503,789.514,20.800)" font-family="Liberation Sans" font-size="1" fill="#111">Unit: mm</text>
<text transform="matrix(17.0976,0,0,17.0976,13.315,788.600)" font-family="Liberation Sans" font-size="1" fill="#111">Weight: 0.098 g (typ.)</text>
<rect x="13.3" y="808.0" width="491.8" height="36.5" fill="#e6e6e6"/>
<rect x="13.3" y="807.3" width="491.8" height="96.9" fill="none" stroke="#000" stroke-width="2.6"/>
<line x1="12" y1="844.4" x2="506.4" y2="844.4" stroke="#000" stroke-width="3"/>
<line x1="12" y1="874.6" x2="506.4" y2="874.6" stroke="#000" stroke-width="1.8"/>
<text transform="matrix(15.2290,0,0,15.2290,195.782,833.400)" font-family="Liberation Sans" font-size="1" fill="#111">Package Name(s)</text>
<text transform="matrix(14.9515,0,0,14.9515,18.101,867.800)" font-family="Liberation Sans" font-size="1" fill="#111">TOSHIBA: 2-5S1A</text>
<text transform="matrix(15.1970,0,0,15.1970,17.184,897.100)" font-family="Liberation Sans" font-size="1" fill="#111">Nickname: DSOP Advance</text>
</svg>
</body></html>
